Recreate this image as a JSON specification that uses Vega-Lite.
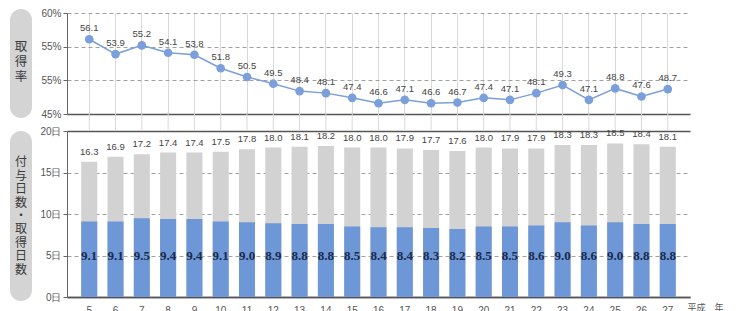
{
  "$schema": "https://vega.github.io/schema/vega-lite/v6.json",
  "padding": {"left": 10, "top": 8, "right": 0, "bottom": 0},
  "bounds": "flush",
  "center": true,
  "columns": 2,
  "spacing": {"row": 13, "column": 35},
  "datasets": {
    "main": [
      {"year": 5, "rate": 56.1, "total": 16.3, "taken": 9.1},
      {"year": 6, "rate": 53.9, "total": 16.9, "taken": 9.1},
      {"year": 7, "rate": 55.2, "total": 17.2, "taken": 9.5},
      {"year": 8, "rate": 54.1, "total": 17.4, "taken": 9.4},
      {"year": 9, "rate": 53.8, "total": 17.4, "taken": 9.4},
      {"year": 10, "rate": 51.8, "total": 17.5, "taken": 9.1},
      {"year": 11, "rate": 50.5, "total": 17.8, "taken": 9.0},
      {"year": 12, "rate": 49.5, "total": 18.0, "taken": 8.9},
      {"year": 13, "rate": 48.4, "total": 18.1, "taken": 8.8},
      {"year": 14, "rate": 48.1, "total": 18.2, "taken": 8.8},
      {"year": 15, "rate": 47.4, "total": 18.0, "taken": 8.5},
      {"year": 16, "rate": 46.6, "total": 18.0, "taken": 8.4},
      {"year": 17, "rate": 47.1, "total": 17.9, "taken": 8.4},
      {"year": 18, "rate": 46.6, "total": 17.7, "taken": 8.3},
      {"year": 19, "rate": 46.7, "total": 17.6, "taken": 8.2},
      {"year": 20, "rate": 47.4, "total": 18.0, "taken": 8.5},
      {"year": 21, "rate": 47.1, "total": 17.9, "taken": 8.5},
      {"year": 22, "rate": 48.1, "total": 17.9, "taken": 8.6},
      {"year": 23, "rate": 49.3, "total": 18.3, "taken": 9.0},
      {"year": 24, "rate": 47.1, "total": 18.3, "taken": 8.6},
      {"year": 25, "rate": 48.8, "total": 18.5, "taken": 9.0},
      {"year": 26, "rate": 47.6, "total": 18.4, "taken": 8.8},
      {"year": 27, "rate": 48.7, "total": 18.1, "taken": 8.8}
    ],
    "box1": [{"label": "取\n得\n率"}],
    "box2": [{"label": "付\n与\n日\n数\n・\n取\n得\n日\n数"}]
  },
  "concat": [
    {
      "width": 22,
      "height": 109,
      "data": {"name": "box1"},
      "view": {"fill": "#d4d4d4", "stroke": null, "cornerRadius": 11},
      "mark": {"type": "text", "font": "Noto Sans CJK JP", "fontSize": 12.5, "lineHeight": 15, "color": "#3a3a3a", "baseline": "middle", "align": "center", "lineBreak": "\n", "dy": -17},
      "encoding": {"text": {"field": "label"}}
    },
    {
      "width": 623,
      "height": 101,
      "data": {"name": "main"},
      "view": {"stroke": null},
      "encoding": {
        "x": {
          "field": "year", "type": "ordinal", "sort": null,
          "scale": {"type": "band", "paddingInner": 0.39, "paddingOuter": 0.54},
          "axis": {"grid": true, "gridColor": "#d9d9d9", "bandPosition": 0.5, "labels": false, "ticks": false, "domain": false, "title": null}
        }
      },
      "layer": [
        {
          "mark": {"type": "line", "color": "#7b9fdb", "strokeWidth": 1.5},
          "encoding": {
            "y": {
              "field": "rate", "type": "quantitative",
              "scale": {"domain": [45, 60], "nice": false},
              "axis": {
                "values": [45, 50, 55, 60],
                "tickCount": 10,
                "labelExpr": "datum.value == 50 ? '55%' : datum.value + '%'",
                "title": null,
                "grid": true,
                "gridDash": {"condition": {"test": "datum.value == 45", "value": []}, "value": [4, 3]},
                "gridColor": {"condition": {"test": "datum.value == 45", "value": "#555555"}, "value": "#a0a0a0"},
                "gridWidth": {"condition": {"test": "datum.value == 45", "value": 1.3}, "value": 1},
                "domain": true, "domainColor": "#666666",
                "ticks": true, "tickSize": 4, "tickColor": "#666666",
                "labelColor": "#555555", "labelFontSize": 10, "labelPadding": 2
              }
            }
          }
        },
        {
          "mark": {"type": "point", "filled": true, "color": "#7b9fdb", "size": 75, "opacity": 1},
          "encoding": {"y": {"field": "rate", "type": "quantitative"}}
        },
        {
          "mark": {"type": "text", "fontSize": 9.5, "color": "#444444", "baseline": "alphabetic", "dy": -8},
          "encoding": {
            "y": {"field": "rate", "type": "quantitative"},
            "text": {"field": "rate", "type": "quantitative", "format": ".1f"}
          }
        }
      ]
    },
    {
      "width": 22,
      "height": 170,
      "data": {"name": "box2"},
      "view": {"fill": "#d4d4d4", "stroke": null, "cornerRadius": 11},
      "mark": {"type": "text", "font": "Noto Sans CJK JP", "fontSize": 12, "lineHeight": 13.4, "color": "#3a3a3a", "baseline": "middle", "align": "center", "lineBreak": "\n", "dy": -53.6},
      "encoding": {"text": {"field": "label"}}
    },
    {
      "width": 623,
      "height": 166,
      "data": {"name": "main"},
      "view": {"stroke": null},
      "encoding": {
        "x": {
          "field": "year", "type": "ordinal", "sort": null,
          "scale": {"type": "band", "paddingInner": 0.39, "paddingOuter": 0.54},
          "axis": {
            "labelAngle": 0, "labelFontSize": 10, "labelColor": "#555555", "labelPadding": 8,
            "ticks": false, "domain": true, "domainColor": "#555555", "domainWidth": 1.3,
            "title": "平成　年", "titleFontSize": 9, "titleFontWeight": "normal", "titleColor": "#555555",
            "titleAnchor": "start", "titleAlign": "left", "titleX": 620, "titleY": 6, "titleBaseline": "top",
            "titleFont": "Noto Sans CJK JP"
          }
        }
      },
      "layer": [
        {
          "mark": {"type": "rule", "color": "#d9d9d9", "strokeWidth": 1, "clip": false},
          "encoding": {
            "y": {"datum": 20, "type": "quantitative"},
            "y2": {"datum": 22.3}
          }
        },
        {
          "mark": {"type": "bar", "color": "#d2d2d2"},
          "encoding": {
            "y": {
              "field": "total", "type": "quantitative",
              "scale": {"domain": [0, 20], "nice": false},
              "axis": {
                "values": [0, 5, 10, 15, 20],
                "tickCount": 10,
                "labelExpr": "datum.value + '日'",
                "title": null,
                "grid": true,
                "gridDash": {"condition": {"test": "datum.value == 20 || datum.value == 0", "value": []}, "value": [4, 3]},
                "gridColor": {"condition": {"test": "datum.value == 20 || datum.value == 0", "value": "#555555"}, "value": "#a0a0a0"},
                "gridWidth": {"condition": {"test": "datum.value == 20 || datum.value == 0", "value": 1.3}, "value": 1},
                "domain": true, "domainColor": "#666666",
                "ticks": true, "tickSize": 4, "tickColor": "#666666",
                "labelColor": "#555555", "labelFontSize": 10, "labelPadding": 2
              }
            }
          }
        },
        {
          "mark": {"type": "bar", "color": "#6d97d7"},
          "encoding": {"y": {"field": "taken", "type": "quantitative"}}
        },
        {
          "mark": {"type": "text", "fontSize": 9.5, "color": "#444444", "baseline": "alphabetic", "dy": -7},
          "encoding": {
            "y": {"field": "total", "type": "quantitative"},
            "text": {"field": "total", "type": "quantitative", "format": ".1f"}
          }
        },
        {
          "mark": {"type": "text", "fontSize": 13, "fontWeight": "bold", "font": "Liberation Sans Narrow", "color": "#1b2a4a", "baseline": "middle"},
          "encoding": {
            "y": {"datum": 5, "type": "quantitative"},
            "text": {"field": "taken", "type": "quantitative", "format": ".1f"}
          }
        }
      ]
    }
  ],
  "config": {
    "font": "Liberation Sans",
    "view": {"stroke": null},
    "background": "#ffffff"
  }
}
